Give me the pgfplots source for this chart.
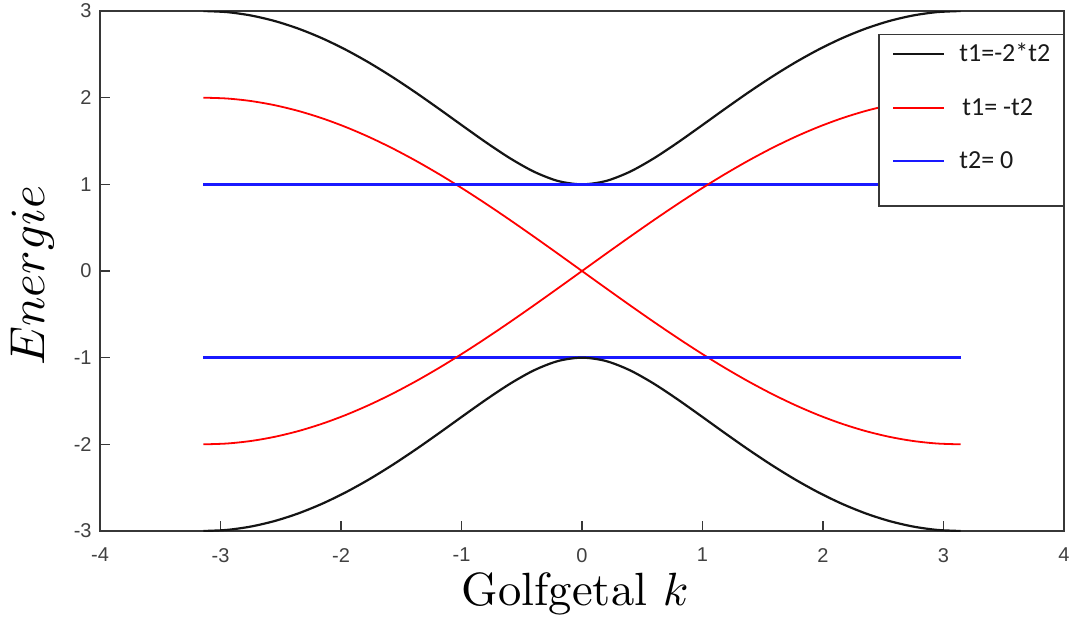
\documentclass[border=0pt]{standalone}
\usepackage{fontspec}
\usepackage{pgfplots}
\pgfplotsset{compat=1.18}
\usepackage{pgfplotstable}

\newfontfamily\arial{Liberation Sans}
\newfontfamily\carlito{Carlito}
\newfontfamily\lmten{lmroman10-regular.otf}
% math italic from the 10pt design at every size
\DeclareFontFamily{OML}{cmm}{\skewchar\font127}
\DeclareFontShape{OML}{cmm}{m}{it}{<->cmmi10}{}

\definecolor{axgray}{RGB}{55,55,55}
\definecolor{ticktext}{RGB}{64,64,64}
\definecolor{bandblack}{RGB}{20,20,20}
\definecolor{bandred}{RGB}{255,0,0}
\definecolor{bandblue}{RGB}{25,25,255}

\pgfplotsset{
  legline/.style={legend image code/.code={\draw[##1] (0pt,0pt) -- (25.5pt,0pt);}},
  % last legend row keeps extra room below it
  leglinelast/.style={legend image code/.code={\draw[##1] (0pt,0pt) -- (25.5pt,0pt); \path (0pt,-17.4pt);}},
}

% k, upper/lower band for t1=-2*t2, the two crossing bands for t1=-t2
\pgfplotstableread{
k        eup      edn       rup       rdn
-3.14159 3.00000  -3.00000  -2.00000  2.00000
-2.94524 2.98716  -2.98716  -1.99037  1.99037
-2.74889 2.94882  -2.94882  -1.96157  1.96157
-2.55254 2.88546  -2.88546  -1.91388  1.91388
-2.35619 2.79793  -2.79793  -1.84776  1.84776
-2.15984 2.68743  -2.68743  -1.76384  1.76384
-1.96350 2.55553  -2.55553  -1.66294  1.66294
-1.76715 2.40424  -2.40424  -1.54602  1.54602
-1.57080 2.23607  -2.23607  -1.41421  1.41421
-1.37445 2.05418  -2.05418  -1.26879  1.26879
-1.17810 1.86260  -1.86260  -1.11114  1.11114
-0.98175 1.66665  -1.66665  -0.94279  0.94279
-0.78540 1.47363  -1.47363  -0.76537  0.76537
-0.58905 1.29388  -1.29388  -0.58057  0.58057
-0.39270 1.14214  -1.14214  -0.39018  0.39018
-0.19635 1.03772  -1.03772  -0.19603  0.19603
 0.00000 1.00000  -1.00000   0.00000  0.00000
 0.19635 1.03772  -1.03772   0.19603 -0.19603
 0.39270 1.14214  -1.14214   0.39018 -0.39018
 0.58905 1.29388  -1.29388   0.58057 -0.58057
 0.78540 1.47363  -1.47363   0.76537 -0.76537
 0.98175 1.66665  -1.66665   0.94279 -0.94279
 1.17810 1.86260  -1.86260   1.11114 -1.11114
 1.37445 2.05418  -2.05418   1.26879 -1.26879
 1.57080 2.23607  -2.23607   1.41421 -1.41421
 1.76715 2.40424  -2.40424   1.54602 -1.54602
 1.96350 2.55553  -2.55553   1.66294 -1.66294
 2.15984 2.68743  -2.68743   1.76384 -1.76384
 2.35619 2.79793  -2.79793   1.84776 -1.84776
 2.55254 2.88546  -2.88546   1.91388 -1.91388
 2.74889 2.94882  -2.94882   1.96157 -1.96157
 2.94524 2.98716  -2.98716   1.99037 -1.99037
 3.14159 3.00000  -3.00000   2.00000 -2.00000
}\bands

% flat bands for t2=0
\pgfplotstableread{
k        up       dn
-3.14159 1.0      -1.0
 3.14159 1.0      -1.0
}\flat

\begin{document}
\begin{tikzpicture}
\begin{axis}[
  scale only axis,
  width=482pt, height=260pt,
  xmin=-4, xmax=4, ymin=-3, ymax=3,
  xtick={-4,-3,-2,-1,0,1,2,3,4},
  xticklabels={-4,-3,-2,-1,0,1,2,3,4},
  ytick={-3,-2,-1,0,1,2,3},
  yticklabels={-3,-2,-1,0,1,2,3},
  tick align=inside,
  xtick pos=left, ytick pos=left,
  major tick length=5pt,
  axis line style={axgray, line width=0.75pt},
  tick style={axgray, line width=0.75pt},
  tick label style={font=\arial\fontsize{10}{12}\selectfont, text=ticktext, inner sep=0pt},
  xticklabel style={yshift=-8.4pt},
  yticklabel style={xshift=-4pt},
  xlabel={\lmten Golfgetal $k$},
  ylabel={$Energie$},
  xlabel style={font=\fontsize{23.3}{28}\selectfont,
    at={(axis description cs:0.493,-0.144)}, anchor=base},
  ylabel style={font=\fontsize{24.5}{29}\selectfont,
    at={(axis description cs:-0.0695,0.491)}, anchor=center},
  legend cell align=left,
  legline,
  legend style={
    at={(axis description cs:1,0.956)}, anchor=north east,
    draw=axgray, line width=0.75pt, fill=white,
    inner xsep=6.5pt, inner ysep=4.5pt,
    row sep=16.25pt, column sep=7pt,
    font=\carlito\fontsize{13}{15}\selectfont, text=black!90,
    nodes={inner sep=0pt, text height=9pt},
  },
]
\addplot[bandblack, line width=1.1pt, smooth] table[x=k, y=eup] {\bands};
\addlegendentry{t1=-2*t2}
\addplot[bandred, line width=0.9pt, smooth] table[x=k, y=rdn] {\bands};
\addlegendentry{\hspace{1.5pt}t1= -t2}
\addplot[bandblue, line width=1.3pt, leglinelast] table[x=k, y=up] {\flat};
\addlegendentry{t2= 0}
\addplot[bandblue, line width=1.3pt, forget plot] table[x=k, y=dn] {\flat};
\addplot[bandred, line width=0.9pt, smooth, forget plot] table[x=k, y=rup] {\bands};
\addplot[bandblack, line width=1.1pt, smooth, forget plot] table[x=k, y=edn] {\bands};
\end{axis}
\path (-50pt,-45pt) rectangle (485.5pt,265.5pt);
\end{tikzpicture}
\end{document}
